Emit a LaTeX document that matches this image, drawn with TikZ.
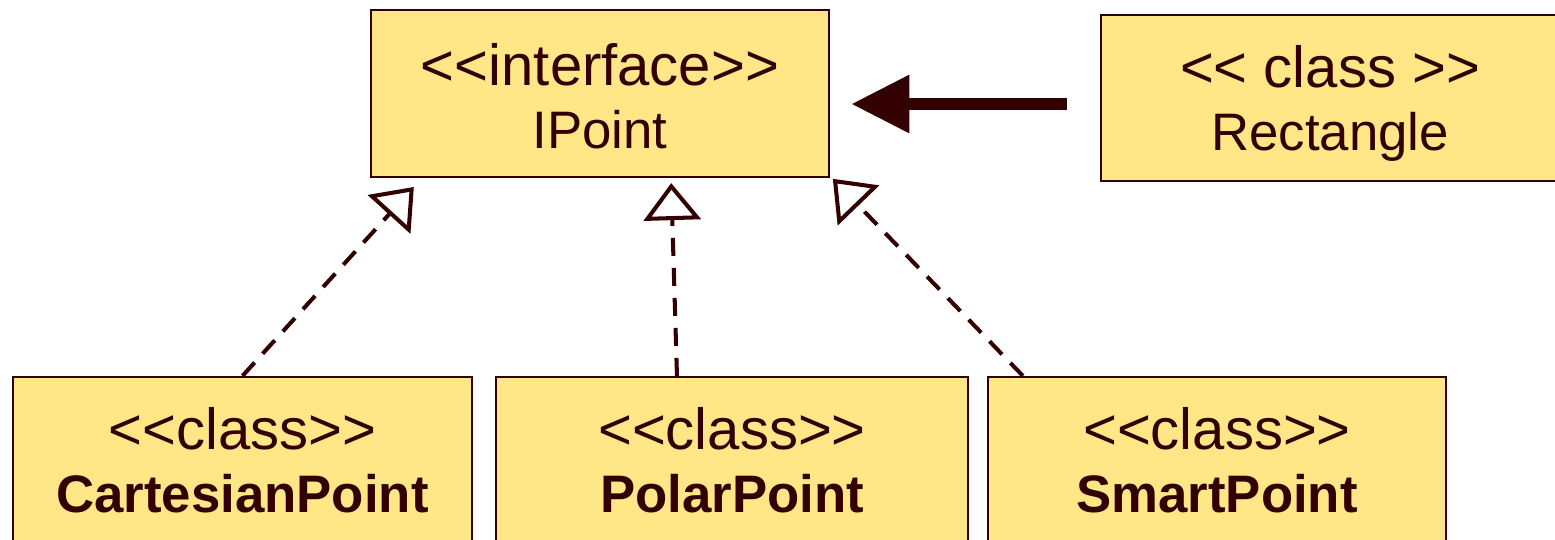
\documentclass[tikz,border=0pt]{standalone}
\usepackage{fontspec}
\setmainfont{Liberation Sans}
\usetikzlibrary{arrows.meta,positioning}
\definecolor{umlfill}{RGB}{255,230,135}
\definecolor{umlline}{RGB}{50,0,0}

\begin{document}
\begin{tikzpicture}[x=0.01cm, y=-0.01cm,
    umlbox/.style={rectangle, draw=umlline, fill=umlfill, line width=0.6pt,
      minimum width=4.58cm, minimum height=1.67cm, inner sep=0pt,
      align=center, text=umlline, font=\fontsize{15}{17.9}\selectfont}]

% frame of the picture, boxes at the border are cut off
\clip (0,0) rectangle (1555,539);

% interface on top, user class on the right
\node[umlbox] (ipoint) at (600, 93.5)
  {{\fontsize{16.5}{17.9}\selectfont\rule{0pt}{0.47cm}<{}<interface>{}>}\\IPoint};
\node[umlbox, minimum height=1.66cm] (rect) at (1330, 98)
  {{\fontsize{16.5}{18.2}\selectfont\rule{0pt}{0.53cm}<{}< class >{}>}\\Rectangle};

% the three implementations
\node[umlbox, minimum width=4.59cm] (cart) at (242.5, 460.5)
  {{\fontsize{16.5}{17.9}\selectfont <{}<class>{}>}\\\textbf{CartesianPoint}};
\node[umlbox, minimum width=4.72cm] (polar) at (732, 460.5)
  {{\fontsize{16.5}{17.9}\selectfont <{}<class>{}>}\\\textbf{PolarPoint}};
\node[umlbox] (smart) at (1217, 460.5)
  {{\fontsize{16.5}{17.9}\selectfont <{}<class>{}>}\\\textbf{SmartPoint}};

% Rectangle uses IPoint
\draw[-{Triangle[length=0.58cm, width=0.55cm]}, umlline, line width=0.12cm,
    shorten <=0.33cm, shorten >=0.21cm]
  ([yshift=-0.06cm]rect.west) -- ([yshift=-0.06cm]rect.west -| ipoint.east);

% realisations -- dashed lines with open triangles
\foreach \src/\sx/\tx/\gap in {cart/0/-1.78/0.12, polar/-0.55/0.71/0.05, smart/-1.94/2.32/0.01} {
  \draw[-{Triangle[open, length=0.37cm, width=0.57cm]}, umlline, line width=1.15pt,
      dash pattern={on 0.18cm off 0.12cm}, shorten >=\gap cm]
    ([xshift=\sx cm]\src.north) -- ([xshift=\tx cm]ipoint.south);
}

\end{tikzpicture}
\end{document}
